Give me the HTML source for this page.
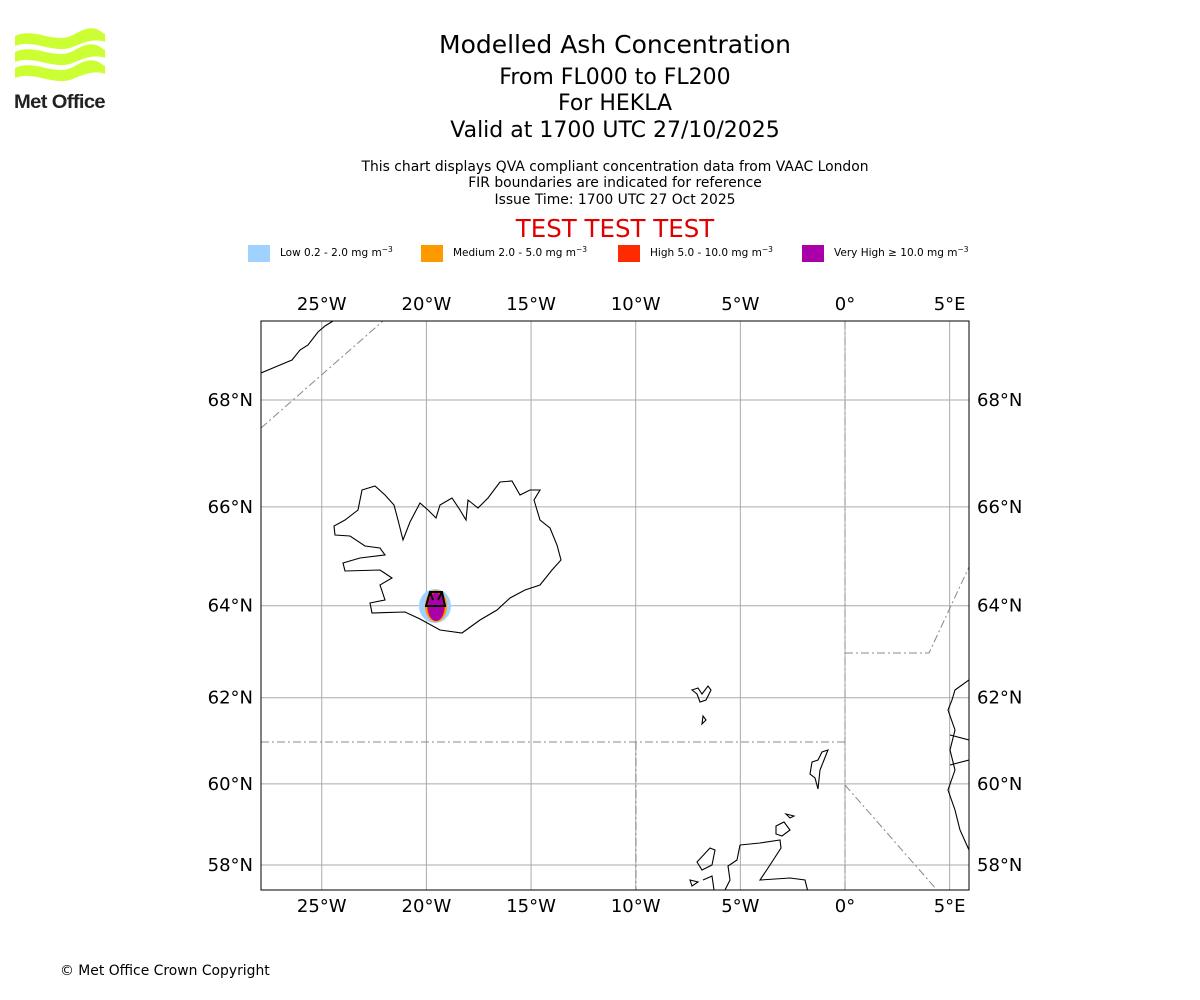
<!DOCTYPE html>
<html><head><meta charset="utf-8"><style>
body{margin:0;background:#fff;font-family:"DejaVu Sans","Liberation Sans",sans-serif}
svg{display:block}
</style></head><body>
<svg width="1200" height="1000" viewBox="0 0 1200 1000" xmlns="http://www.w3.org/2000/svg" font-family="DejaVu Sans, Liberation Sans, sans-serif">
<g>
 <g fill="#ccff33">
  <path d="M15 36 C35 26,55 46,75 34 S100 32,105 34 L105 42 C95 38,85 42,75 46 C55 56,35 38,15 46 Z"/>
  <path d="M15 52 C35 42,55 62,75 50 S100 48,105 50 L105 58 C95 54,85 58,75 62 C55 72,35 54,15 62 Z"/>
  <path d="M15 68 C35 58,55 78,75 66 S100 64,105 66 L105 74 C95 70,85 74,75 78 C55 88,35 70,15 78 Z"/>
 </g>
 <text x="14" y="108" font-size="19" font-weight="bold" fill="#222" font-family="Liberation Sans, sans-serif" letter-spacing="-0.6" textLength="91" lengthAdjust="spacingAndGlyphs">Met Office</text>
</g>
<g text-anchor="middle" fill="#000">
 <text x="615" y="53" font-size="25">Modelled Ash Concentration</text>
 <text x="615" y="84" font-size="22">From FL000 to FL200</text>
 <text x="615" y="110" font-size="22">For HEKLA</text>
 <text x="615" y="137" font-size="22">Valid at 1700 UTC 27/10/2025</text>
 <text x="615" y="171" font-size="13.9">This chart displays QVA compliant concentration data from VAAC London</text>
 <text x="615" y="187" font-size="13.9">FIR boundaries are indicated for reference</text>
 <text x="615" y="204" font-size="13.9">Issue Time: 1700 UTC 27 Oct 2025</text>
 <text x="615" y="237" font-size="24.5" fill="#e00000">TEST TEST TEST</text>
</g>
<g font-size="10.5">
 <rect x="248" y="245" width="22" height="17" fill="#a0d2ff"/>
 <text x="280" y="256">Low 0.2 - 2.0 mg m<tspan dy="-4" font-size="7.5">−3</tspan></text>
 <rect x="421" y="245" width="22" height="17" fill="#ff9900"/>
 <text x="453" y="256">Medium 2.0 - 5.0 mg m<tspan dy="-4" font-size="7.5">−3</tspan></text>
 <rect x="618" y="245" width="22" height="17" fill="#ff2a00"/>
 <text x="650" y="256">High 5.0 - 10.0 mg m<tspan dy="-4" font-size="7.5">−3</tspan></text>
 <rect x="802" y="245" width="22" height="17" fill="#aa00aa"/>
 <text x="834" y="256">Very High  ≥  10.0 mg m<tspan dy="-4" font-size="7.5">−3</tspan></text>
</g>
<defs><clipPath id="mapclip"><rect x="261" y="321" width="708" height="569"/></clipPath></defs>
<g id="grid"></g>
<g id="ticks" font-size="18"></g>
<g clip-path="url(#mapclip)">
 <g fill="none" stroke="#888" stroke-width="1" stroke-dasharray="8,3,2,3">
  <path d="M261 428 L383 321"/>
  <path d="M261 742 L845 742"/>
  <path d="M636 742 L636 890"/>
  <path d="M845 321 L845 890"/>
  <path d="M845 653 L929 653 L969 567"/>
  <path d="M845 785 L937 890"/>
 </g>
 <g fill="none" stroke="#000" stroke-width="1.1">
  <path d="M261 373 L280 365 L292 360 L300 350 L308 345 L318 332 L325 326 L333 321"/>
  <path d="M362 490 L375 486 L385 495 L394 505 L398 520 L403 540 L410 522 L420 503 L428 510 L436 518 L440 505 L452 498 L460 510 L466 520 L468 500 L478 508 L488 498 L500 482 L512 481 L520 495 L530 490 L540 490 L534 500 L540 520 L550 528 L557 545 L561 560 L552 570 L540 585 L525 590 L510 598 L497 610 L480 620 L462 633 L440 630 L420 619 L405 612 L372 613 L370 603 L385 600 L380 585 L392 578 L380 570 L345 571 L343 563 L360 558 L385 555 L380 548 L365 546 L350 536 L335 535 L334 526 L345 520 L358 510 L360 500 Z"/>
  <path d="M692 690 L698 688 L702 694 L708 686 L711 690 L706 700 L700 702 L697 694 Z M703 716 L706 720 L702 724 Z"/>
  <path d="M812 762 L818 760 L822 752 L828 750 L824 760 L820 770 L818 789 L815 778 L810 774 Z"/>
  <path d="M776 826 L784 822 L790 830 L782 836 L776 834 Z M786 814 L794 816 L790 818 Z"/>
  <path d="M740 845 L760 843 L780 840 L781 848 L770 865 L760 880 L790 878 L805 880 L808 892 M740 845 L737 860 L728 866 L730 880 L724 892"/>
  <path d="M697 862 L710 848 L715 850 L712 865 L702 870 Z M690 880 L698 882 L692 886 Z M703 880 L712 876 L714 890"/>
  <path d="M969 680 L955 690 L952 700 L948 710 L955 730 L950 750 L955 770 L948 790 L955 810 L960 830 L969 850 M950 735 L969 740 M950 765 L969 760"/>
 </g>
 <g>
  <ellipse cx="435" cy="606" rx="16" ry="17" fill="#a0d2ff"/>
  <ellipse cx="436" cy="606" rx="11" ry="16" fill="#ff9900"/>
  <ellipse cx="436" cy="606" rx="9" ry="15" fill="#ff2a00"/>
  <ellipse cx="436" cy="607" rx="8" ry="14" fill="#aa00aa"/>
  <path d="M426 606 L430 592 L442 592 L445 606 M430 592 L433 600 M442 592 L438 600 M425 606 L446 606" stroke="#000" stroke-width="2" fill="none"/>
 </g>
</g>
<rect x="261" y="321" width="708" height="569" fill="none" stroke="#000" stroke-width="1"/>
<text x="60" y="975" font-size="13.9">© Met Office Crown Copyright</text>
<script>
const lonTicks=[-25,-20,-15,-10,-5,0,5];
const lonLabels=["25°W","20°W","15°W","10°W","5°W","0°","5°E"];
const latTicks=[58,60,62,64,66,68];
const latLabels=["58°N","60°N","62°N","64°N","66°N","68°N"];
const NS='http://www.w3.org/2000/svg';
function xLon(l){return 845+l*20.93;}
function merc(lat){return Math.log(Math.tan(Math.PI/4+lat*Math.PI/360));}
function yLat(l){return 400+(merc(68)-merc(l))*1196;}
const g=document.getElementById('grid'),t=document.getElementById('ticks');
function mk(tag,attrs,parent){const e=document.createElementNS(NS,tag);for(const k in attrs)e.setAttribute(k,attrs[k]);parent.appendChild(e);return e;}
lonTicks.forEach((v,i)=>{
 const x=xLon(v);
 const ln=mk('line',{x1:x,x2:x,y1:321,y2:890,stroke:'#aaa','stroke-width':1},g);
 
 
 [310,912].forEach(y=>{const tx=mk('text',{x:x,y:y,'text-anchor':'middle'},t);tx.textContent=lonLabels[i];
 
 });
});
latTicks.forEach((v,i)=>{
 const y=yLat(v);
 const ln=mk('line',{x1:261,x2:969,y1:y,y2:y,stroke:'#aaa','stroke-width':1},g);
 
 
 const a=mk('text',{x:253,y:y+6,'text-anchor':'end'},t);a.textContent=latLabels[i];
 
 
 const b=mk('text',{x:977,y:y+6,'text-anchor':'start'},t);b.textContent=latLabels[i];
 
 
});
</script>
</svg>
</body></html>
